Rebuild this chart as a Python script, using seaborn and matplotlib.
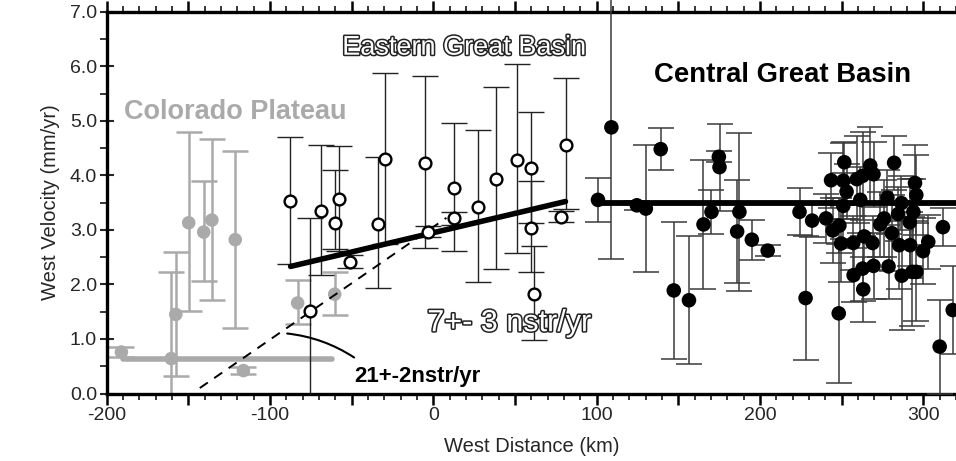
import numpy as np
import pandas as pd
import matplotlib
matplotlib.use("Agg")
import matplotlib.pyplot as plt
import seaborn as sns
from matplotlib import patheffects as pe
from matplotlib.ticker import MultipleLocator, FuncFormatter

# ---------------- data ----------------
# Colorado Plateau (gray)
cp_x = [-191, -160.5, -157.7, -149.8, -140.6, -135.6, -121.3, -116.3, -83.1, -60.4]
cp_v = [0.76, 0.64, 1.45, 3.13, 2.96, 3.18, 2.82, 0.42, 1.66, 1.82]
cp_top = [0.86, 2.23, 2.60, 4.79, 3.89, 4.67, 4.44, 0.49, 2.08, 2.22]
cp_bot = [0.67, -0.60, 0.33, 1.52, 2.06, 1.71, 1.21, 0.35, 1.27, 1.44]

# Eastern Great Basin (open circles)
eg_x = [-87.8, -75.6, -68.9, -60.4, -57.9, -50.8, -33.9, -29.3, -5.1, -3.0,
        12.4, 12.4, 27.2, 38.2, 51.2, 60.0, 60.0, 61.6, 78.2, 81.3]
eg_v = [3.53, 1.51, 3.34, 3.13, 3.57, 2.42, 3.11, 4.30, 4.23, 2.97,
        3.77, 3.21, 3.42, 3.94, 4.29, 4.13, 3.04, 1.83, 3.24, 4.56]
eg_top = [4.71, 3.21, 4.55, 4.10, 4.53, 2.54, 4.33, 5.88, 5.83, 3.07,
          4.96, 3.33, 4.84, 5.62, 6.05, 5.16, 3.90, 2.71, 3.34, 5.78]
eg_bot = [2.37, -0.30, 2.17, 2.65, 2.62, 2.30, 1.93, 2.75, 2.67, 2.87,
          2.62, 3.09, 2.04, 2.29, 2.58, 3.13, 2.22, 0.99, 3.14, 3.38]

# Central Great Basin (black)
cg_x = [100.8, 109.0, 124.6, 130.1, 139.2, 147.2, 156.5, 165.4, 170.3, 174.8,
        175.2, 187.4, 186.0, 195.0, 204.7, 224.2, 227.9, 231.9, 240.4, 243.5,
        244.5, 248.2, 248.6, 249.6, 251.0, 251.0, 251.6, 253.0, 257.1, 257.3,
        259.3, 261.4, 262.8, 262.8, 263.2, 263.8, 267.5, 268.9, 269.5, 269.5,
        273.6, 276.0, 278.0, 278.7, 280.7, 282.1, 284.6, 285.2, 286.6, 286.8,
        291.7, 291.9, 293.3, 293.9, 294.9, 295.7, 295.7, 299.8, 303.0, 310.0,
        312.0, 318.0]
cg_v = [3.55, 4.88, 3.45, 3.39, 4.48, 1.89, 1.71, 3.10, 3.33, 4.34,
        4.15, 3.33, 2.97, 2.82, 2.62, 3.33, 1.75, 3.17, 3.21, 3.91,
        2.99, 1.47, 3.08, 2.75, 3.44, 3.90, 4.24, 3.70, 2.76, 2.17,
        3.93, 3.55, 3.99, 2.29, 1.91, 2.88, 4.18, 2.76, 4.02, 2.34,
        3.10, 3.21, 3.59, 2.33, 2.94, 4.23, 3.29, 2.72, 3.49, 2.16,
        3.14, 2.72, 2.23, 3.33, 3.86, 3.64, 2.23, 2.61, 2.78, 0.86,
        3.05, 1.53]
cg_err = [0.40, 2.42, 0.08, 1.17, 0.38, 1.25, 1.17, 1.18, 0.40, 0.10,
          0.80, 1.45, 0.95, 0.37, 0.10, 0.43, 1.13, 0.30, 0.45, 0.50,
          0.60, 1.28, 0.50, 0.70, 0.60, 0.70, 0.38, 0.50, 0.50, 0.50,
          0.80, 0.60, 0.80, 0.60, 0.60, 0.60, 0.70, 0.50, 0.60, 0.60,
          0.60, 0.70, 0.50, 0.60, 0.70, 0.50, 0.50, 0.80, 0.50, 1.00,
          0.80, 0.60, 1.00, 0.60, 0.70, 0.74, 0.90, 0.60, 0.50, 0.86,
          0.35, 0.80]

# fitted lines
cp_fit_x = [-190, -62]
cp_fit_v = [0.64, 0.64]
eg_fit_x = [-87.4, 80.9]
eg_fit_v = [2.33, 3.52]
eg_dash_x = [-143, 8]
eg_dash_v = [0.10, 3.22]
cg_fit_x = [100, 320]
cg_fit_v = [3.50, 3.50]

GRAY = "#aaaaaa"

# ---------------- figure ----------------
sns.set_style("ticks")
plt.rcParams["font.family"] = ["Liberation Sans", "DejaVu Sans"]

fig = plt.figure(figsize=(9.56, 4.61), dpi=100)
ax = fig.add_axes([106.7 / 956, 67.5 / 461, (956 - 106.7) / 956, (393.5 - 11.7) / 461])

# Colorado Plateau
cp_v_a = np.array(cp_v)
ax.errorbar(cp_x, cp_v, yerr=[cp_v_a - np.array(cp_bot), np.array(cp_top) - cp_v_a],
            fmt="none", ecolor=GRAY, elinewidth=1.8, capsize=9.5, capthick=1.8, zorder=2)
sns.lineplot(x=cp_fit_x, y=cp_fit_v, ax=ax, color=GRAY, lw=4, zorder=2)
sns.scatterplot(x=cp_x, y=cp_v, ax=ax, color=GRAY, s=95, edgecolor="none", zorder=3)

# Eastern Great Basin
eg_v_a = np.array(eg_v)
ax.errorbar(eg_x, eg_v, yerr=[eg_v_a - np.array(eg_bot), np.array(eg_top) - eg_v_a],
            fmt="none", ecolor="#222222", elinewidth=1.0, capsize=9.5, capthick=1.0, zorder=4)
sns.lineplot(x=eg_dash_x, y=eg_dash_v, ax=ax, color="black", lw=1.4, ls=(0, (5, 4)), zorder=5)
sns.lineplot(x=eg_fit_x, y=eg_fit_v, ax=ax, color="black", lw=4, zorder=5)
sns.scatterplot(x=eg_x, y=eg_v, ax=ax, facecolor="white", edgecolor="black",
                linewidth=1.7, s=72, zorder=6)

# Central Great Basin
ax.errorbar(cg_x, cg_v, yerr=cg_err, fmt="none", ecolor="#3a3a3a", elinewidth=1.1,
            capsize=9.5, capthick=1.1, zorder=7, clip_on=False)
sns.lineplot(x=cg_fit_x, y=cg_fit_v, ax=ax, color="black", lw=4.2, zorder=8)
sns.scatterplot(x=cg_x, y=cg_v, ax=ax, color="black", s=110, edgecolor="none", zorder=9)

# ---------------- axes ----------------
ax.set_xlim(-200, 320)
ax.set_ylim(0, 7)
ax.xaxis.set_major_locator(MultipleLocator(50))
ax.xaxis.set_minor_locator(MultipleLocator(10))
ax.xaxis.set_major_formatter(FuncFormatter(lambda v, p: f"{int(round(v))}" if round(v) % 100 == 0 else ""))
ax.yaxis.set_major_locator(MultipleLocator(1))
ax.yaxis.set_minor_locator(MultipleLocator(0.5))
ax.yaxis.set_major_formatter(FuncFormatter(lambda v, p: f"{v:.1f}"))
ax.tick_params(axis="x", which="major", direction="out", length=8, width=1.8,
               top=True, labelsize=14, pad=2, color="black")
ax.tick_params(axis="x", which="minor", direction="out", length=4, width=1.3, top=True)
ax.tick_params(axis="y", which="major", direction="inout", length=10, width=1.5,
               labelsize=14, pad=2)
ax.tick_params(axis="y", which="minor", direction="out", length=5, width=1.3)
for s in ["left", "bottom", "top"]:
    ax.spines[s].set_linewidth(2.4)
    ax.spines[s].set_color("black")
ax.spines["right"].set_visible(False)

ax.set_xlabel("West Distance (km)", fontsize=14.5, labelpad=9)
ax.set_ylabel("West Velocity (mm/yr)", fontsize=14.5, labelpad=7)

# ---------------- annotations ----------------
ax.text(-189.5, 5.17, "Colorado Plateau", color=GRAY, fontsize=19.5, fontweight="bold",
        va="center", ha="left", zorder=10)
ax.text(135.4, 5.84, "Central Great Basin", color="black", fontsize=19.8, fontweight="bold",
        va="center", ha="left", zorder=10)
outline = [pe.withStroke(linewidth=2.2, foreground="#222222")]
ax.text(-55.8, 6.34, "Eastern Great Basin", color="white", fontsize=19.5,
        va="center", ha="left", path_effects=outline, zorder=10)
ax.text(-3.7, 1.29, "7+- 3 nstr/yr", color="white", fontsize=22,
        va="center", ha="left", path_effects=outline, zorder=10)
ax.text(-48.4, 0.31, "21+-2nstr/yr", color="black", fontsize=16, fontweight="bold",
        va="center", ha="left", zorder=10)
ax.annotate("", xy=(-48.5, 0.66), xytext=(-89.5, 1.10),
            arrowprops=dict(arrowstyle="-", lw=1.5, color="black",
                            connectionstyle="arc3,rad=-0.12", shrinkA=0, shrinkB=0),
            zorder=10)

fig.savefig("out.png", dpi=100)
